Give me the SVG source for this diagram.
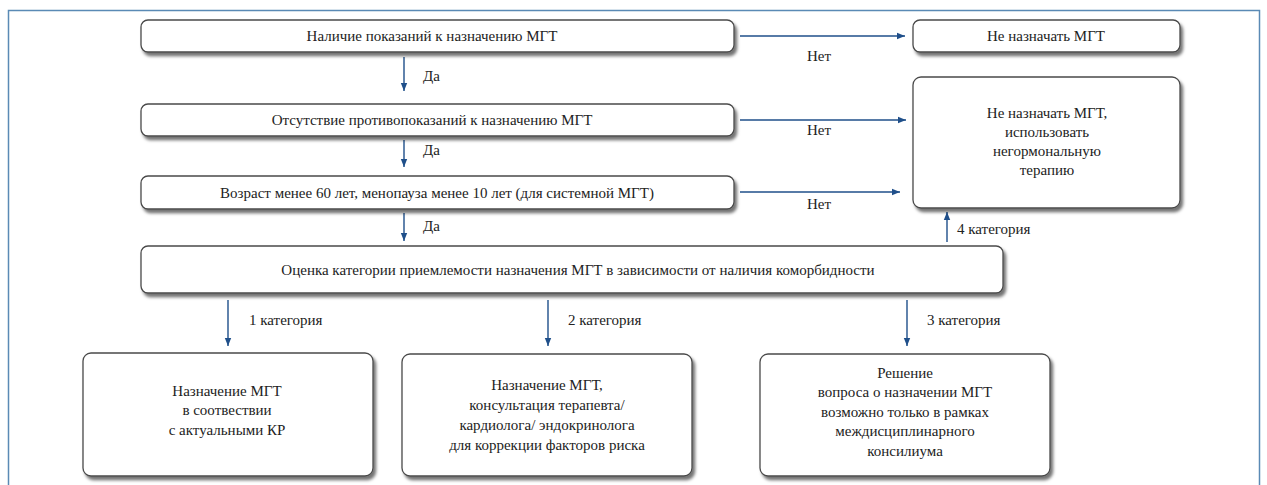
<svg xmlns="http://www.w3.org/2000/svg" width="1267" height="485" viewBox="0 0 1267 485">
<defs>
<filter id="sh" x="-10%" y="-20%" width="120%" height="150%">
<feDropShadow dx="2.5" dy="3.5" stdDeviation="1.6" flood-color="#000" flood-opacity="0.55"/>
</filter>
<marker id="ah" viewBox="0 0 10 10" refX="10" refY="5" markerWidth="10" markerHeight="8" markerUnits="userSpaceOnUse" orient="auto">
<path d="M0,1 L10,5 L0,9 Z" fill="#1f4f8a"/>
</marker>
<style>
.box{fill:#fff;stroke:#4a4a4a;stroke-width:1.3;filter:url(#sh)}
.t{font-family:"Liberation Serif","Times New Roman",serif;font-size:15px;fill:#222;text-anchor:middle}
.l{font-family:"Liberation Serif","Times New Roman",serif;font-size:15px;fill:#222}
.c{stroke:#1f4f8a;stroke-width:1.4;fill:none;marker-end:url(#ah)}
</style>
</defs>
<rect x="0" y="0" width="1267" height="485" fill="#fff"/>
<rect x="8.5" y="10.5" width="1251" height="490" fill="none" stroke="#5a8ab5" stroke-width="1.5"/>

<g id="connectors">
<line class="c" x1="404" y1="57" x2="404" y2="91"/>
<line class="c" x1="404" y1="140" x2="404" y2="167"/>
<line class="c" x1="404" y1="213" x2="404" y2="241"/>
<line class="c" x1="740" y1="36" x2="905" y2="36"/>
<line class="c" x1="740" y1="120" x2="906" y2="120"/>
<line class="c" x1="740" y1="192" x2="900" y2="192"/>
<line class="c" x1="947" y1="242" x2="947" y2="212"/>
<line class="c" x1="228" y1="300" x2="228" y2="346"/>
<line class="c" x1="548" y1="300" x2="548" y2="346"/>
<line class="c" x1="907" y1="300" x2="907" y2="346"/>
<text class="l" x="423" y="81">Да</text>
<text class="l" x="423" y="155">Да</text>
<text class="l" x="423" y="231">Да</text>
<text class="l" x="807" y="61">Нет</text>
<text class="l" x="807" y="135">Нет</text>
<text class="l" x="807" y="209">Нет</text>
<text class="l" x="957" y="234">4 категория</text>
<text class="l" x="249" y="325">1 категория</text>
<text class="l" x="568" y="325">2 категория</text>
<text class="l" x="927" y="325">3 категория</text>
</g>

<g id="n1"><rect class="box" x="141" y="20" width="593" height="32" rx="7"/>
<text class="t" x="432" y="41">Наличие показаний к назначению МГТ</text></g>

<g id="n2"><rect class="box" x="913" y="20" width="267" height="32" rx="7"/>
<text class="t" x="1046" y="41">Не назначать МГТ</text></g>

<g id="n3"><rect class="box" x="141" y="104" width="593" height="32" rx="7"/>
<text class="t" x="432" y="125">Отсутствие противопоказаний к назначению МГТ</text></g>

<g id="n4"><rect class="box" x="141" y="176" width="593" height="33" rx="7"/>
<text class="t" x="437" y="198">Возраст менее 60 лет, менопауза менее 10 лет (для системной МГТ)</text></g>

<g id="n5"><rect class="box" x="913" y="77" width="267" height="131" rx="8"/>
<text class="t" x="1047" y="118">Не назначать МГТ,</text>
<text class="t" x="1047" y="137">использовать</text>
<text class="t" x="1047" y="156">негормональную</text>
<text class="t" x="1047" y="175">терапию</text></g>

<g id="n6"><rect class="box" x="141" y="246" width="862" height="47" rx="7"/>
<text class="t" x="578" y="275">Оценка категории приемлемости назначения МГТ в зависимости от наличия коморбидности</text></g>

<g id="n7"><rect class="box" x="83" y="353" width="290" height="123" rx="8"/>
<text class="t" x="227" y="396">Назначение МГТ</text>
<text class="t" x="227" y="415">в соотвествии</text>
<text class="t" x="227" y="435">с актуальными КР</text></g>

<g id="n8"><rect class="box" x="402" y="354" width="290" height="122" rx="8"/>
<text class="t" x="547" y="390">Назначение МГТ,</text>
<text class="t" x="547" y="410">консультация терапевта/</text>
<text class="t" x="547" y="430">кардиолога/ эндокринолога</text>
<text class="t" x="547" y="450">для коррекции факторов риска</text></g>

<g id="n9"><rect class="box" x="760" y="354" width="290" height="122" rx="8"/>
<text class="t" x="905" y="378">Решение</text>
<text class="t" x="905" y="397">вопроса о назначении МГТ</text>
<text class="t" x="905" y="417">возможно только в рамках</text>
<text class="t" x="905" y="436">междисциплинарного</text>
<text class="t" x="905" y="456">консилиума</text></g>
</svg>
